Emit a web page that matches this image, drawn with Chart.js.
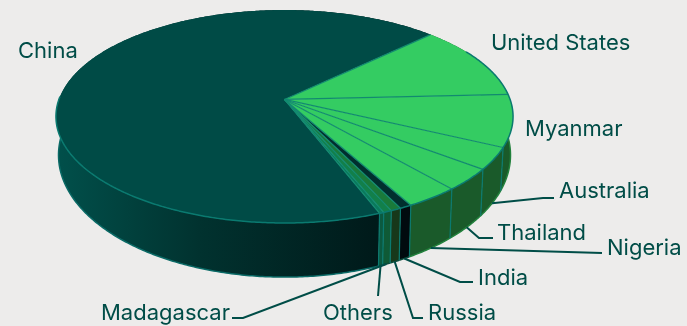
<!DOCTYPE html>
<html>
<head>
<meta charset="utf-8">
<style>
  html, body { margin: 0; padding: 0; background: #edeceb; }
  canvas { display: block; }
</style>
<script src="https://cdn.jsdelivr.net/npm/chart.js@4/dist/chart.umd.min.js"></script>
</head>
<body>
<canvas id="pie" width="687" height="326"></canvas>
<script>
// Rare earth output by country (thousand tonnes), clockwise from China.
const categories = ["China", "United States", "Myanmar", "Australia", "Thailand", "Nigeria", "India", "Russia", "Madagascar", "Others"];
const values = [270, 45, 31, 13, 13, 13, 2.9, 2.5, 2, 1.1];
const topColors = ["#004b46", "#34cc62", "#34cc62", "#34cc62", "#34cc62", "#34cc62", "#012f2e", "#1a7a3a", "#12804a", "#0a7a5c"];
const wallColors = ["#00302d", "#1a5a2a", "#1a5a2a", "#1a5a2a", "#1a5a2a", "#1a5a2a", "#010b0f", "#17381a", "#0f5a36", "#0b5a40"];

const INK = "#004d47";
const EDGE = "#0a7a70";
const DIVIDER = "#128a70";

// Perspective model of the disc: the apex sits above the centre of the rim ellipse.
const APEX_SHIFT = -0.16;
const TOP_RIM = { rx: 2.146, ry: 1, dy: 0 };
const BOTTOM_RIM = { rx: 2.122, ry: 1.146, dy: 0.362 };

function project(arc, theta, rim) {
  const R = arc.outerRadius;
  const a = Math.cos(theta), b = Math.sin(theta);
  const den = 1 + b * APEX_SHIFT;
  const u = a * Math.sqrt(1 - APEX_SHIFT * APEX_SHIFT) / den;
  const v = (b + APEX_SHIFT) / den;
  return { x: arc.x + u * rim.rx * R, y: arc.y + rim.dy * R + v * rim.ry * R };
}

function arcPoints(arc, from, to, rim) {
  const n = Math.max(2, Math.ceil(Math.abs(to - from) / 0.01));
  const pts = [];
  for (let i = 0; i <= n; i++) pts.push(project(arc, from + (to - from) * i / n, rim));
  return pts;
}

function trace(ctx, pts) {
  pts.forEach((p, i) => (i ? ctx.lineTo(p.x, p.y) : ctx.moveTo(p.x, p.y)));
}

// Where a slice's front edge is visible the rim gets a teal highlight.
const FRONT_FROM = 60 * Math.PI / 180 - Math.PI / 2;
const FRONT_TO = 272 * Math.PI / 180 - Math.PI / 2;

function inFront(theta) {
  const t = ((theta - FRONT_FROM) % (2 * Math.PI) + 2 * Math.PI) % (2 * Math.PI);
  return t <= FRONT_TO - FRONT_FROM;
}

function drawPie(chart) {
  const { ctx } = chart;
  const arcs = chart.getDatasetMeta(0).data;
  ctx.save();
  ctx.lineJoin = "round";

  // Side wall of each slice
  arcs.forEach((arc, i) => {
    const top = arcPoints(arc, arc.startAngle, arc.endAngle, TOP_RIM);
    const bottom = arcPoints(arc, arc.endAngle, arc.startAngle, BOTTOM_RIM);
    ctx.beginPath();
    trace(ctx, top.concat(bottom));
    ctx.closePath();
    if (i === 0) {
      const g = ctx.createLinearGradient(56, 0, 375, 0);
      g.addColorStop(0, "#01504b");
      g.addColorStop(0.45, "#01322f");
      g.addColorStop(1, "#001a1a");
      ctx.fillStyle = g;
    } else {
      ctx.fillStyle = wallColors[i];
    }
    ctx.fill();
  });

  // Soft lighter edge along the bottom of the wall
  arcs.forEach((arc, i) => {
    const pts = arcPoints(arc, arc.startAngle, arc.endAngle, BOTTOM_RIM)
      .filter((p, k, all) => inFront(arc.startAngle + (arc.endAngle - arc.startAngle) * k / (all.length - 1)));
    ctx.beginPath();
    trace(ctx, pts);
    ctx.strokeStyle = i === 0 ? "#0a6a66" : (i <= 5 ? "#22813c" : "#0c4a3a");
    ctx.lineWidth = 1.5;
    ctx.stroke();
  });

  // Vertical seams between slices on the wall
  arcs.forEach((arc) => {
    if (!inFront(arc.endAngle)) return;
    const a = project(arc, arc.endAngle, TOP_RIM);
    const b = project(arc, arc.endAngle, BOTTOM_RIM);
    ctx.beginPath();
    ctx.moveTo(a.x, a.y);
    ctx.lineTo(b.x, b.y);
    ctx.strokeStyle = EDGE;
    ctx.lineWidth = 1.2;
    ctx.stroke();
  });

  // Top faces
  arcs.forEach((arc, i) => {
    const apex = { x: arc.x, y: arc.y + APEX_SHIFT * arc.outerRadius };
    ctx.beginPath();
    trace(ctx, [apex].concat(arcPoints(arc, arc.startAngle, arc.endAngle, TOP_RIM)));
    ctx.closePath();
    ctx.fillStyle = topColors[i];
    ctx.fill();
  });

  // Radial dividers and the front rim highlight
  ctx.strokeStyle = DIVIDER;
  ctx.lineWidth = 1.2;
  arcs.forEach((arc) => {
    const apexY = arc.y + APEX_SHIFT * arc.outerRadius;
    const end = project(arc, arc.endAngle, TOP_RIM);
    ctx.beginPath();
    ctx.moveTo(arc.x, apexY);
    ctx.lineTo(end.x, end.y);
    ctx.stroke();
  });
  ctx.strokeStyle = EDGE;
  ctx.lineWidth = 1.5;
  arcs.forEach((arc) => {
    const from = arc.startAngle, to = arc.endAngle;
    const pts = arcPoints(arc, from, to, TOP_RIM)
      .filter((p, k, all) => inFront(from + (to - from) * k / (all.length - 1)));
    if (pts.length < 2) return;
    ctx.beginPath();
    trace(ctx, pts);
    ctx.stroke();
  });
  ctx.restore();
}

// Label text position and the elbow of its leader line, by category.
const labelLayout = {
  "China": { x: 18, y: 51 },
  "United States": { x: 491, y: 43 },
  "Myanmar": { x: 525, y: 129 },
  "Australia": { x: 559, y: 191, elbow: [[543, 198], [554, 198]] },
  "Thailand": { x: 497, y: 233, elbow: [[479, 238], [493, 238]] },
  "Nigeria": { x: 607, y: 248, elbow: [[602, 253]] },
  "India": { x: 478, y: 278, elbow: [[460, 282], [473, 282]] },
  "Russia": { x: 428, y: 313, elbow: [[413, 318], [423, 318]] },
  "Madagascar": { x: 101, y: 313, elbow: [[243, 318], [232, 318]] },
  "Others": { x: 323, y: 313, elbow: [[378, 296]] }
};

function drawLabels(chart) {
  const { ctx } = chart;
  const arcs = chart.getDatasetMeta(0).data;
  ctx.save();
  ctx.font = '22px Inter, "Open Sans", sans-serif';
  ctx.textBaseline = "middle";
  ctx.textAlign = "left";
  ctx.fillStyle = INK;
  ctx.strokeStyle = INK;
  ctx.lineWidth = 2;
  categories.forEach((name, i) => {
    const spot = labelLayout[name];
    ctx.fillText(name, spot.x, spot.y);
    if (!spot.elbow) return;
    const arc = arcs[i];
    const start = project(arc, (arc.startAngle + arc.endAngle) / 2, BOTTOM_RIM);
    ctx.beginPath();
    ctx.moveTo(start.x, start.y);
    spot.elbow.forEach(([x, y]) => ctx.lineTo(x, y));
    ctx.stroke();
  });
  ctx.restore();
}

const tiltedPie = {
  id: "tiltedPie",
  beforeDatasetDraw(chart) {
    drawPie(chart);
    return false;
  },
  afterDraw(chart) {
    drawLabels(chart);
  }
};

new Chart(document.getElementById("pie"), {
  type: "pie",
  data: {
    labels: categories,
    datasets: [{ data: values, backgroundColor: topColors, borderWidth: 0 }]
  },
  options: {
    responsive: false,
    animation: false,
    rotation: 159,
    layout: { padding: { left: 0, right: 118, top: 10, bottom: 103 } },
    plugins: { legend: { display: false }, tooltip: { enabled: false }, title: { display: false } }
  },
  plugins: [tiltedPie]
});
</script>
</body>
</html>
